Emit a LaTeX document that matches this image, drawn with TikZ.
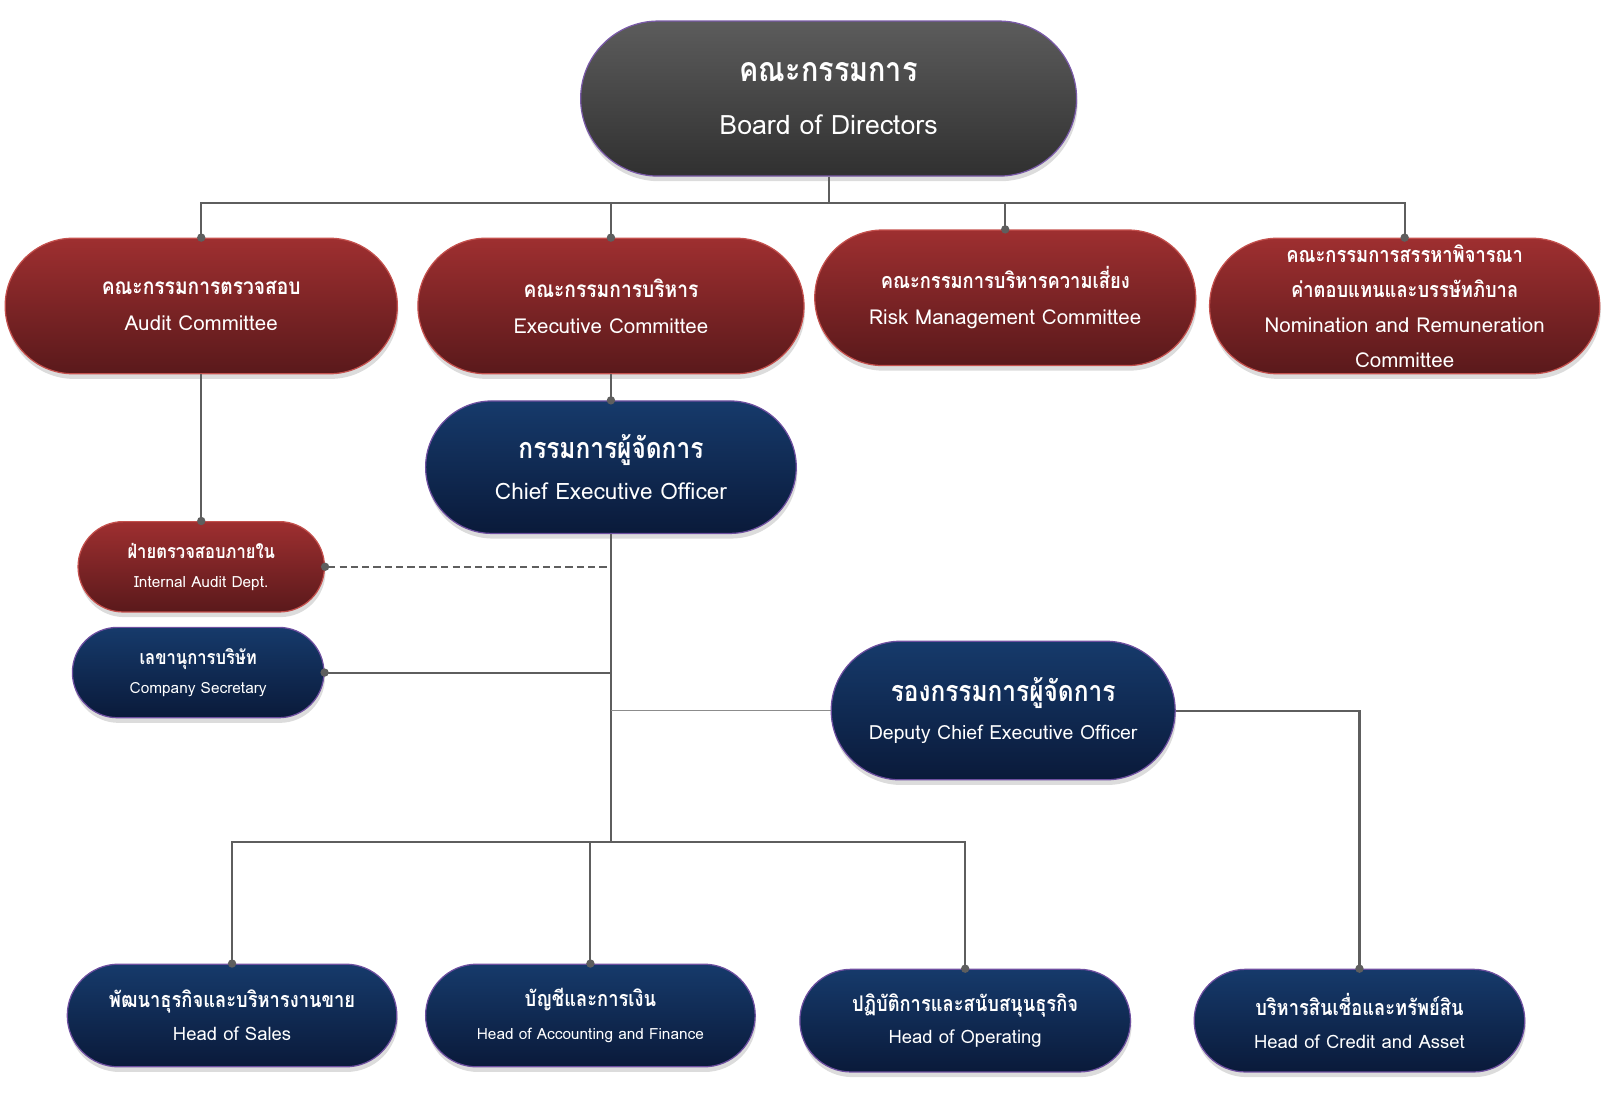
\documentclass[tikz,border=0pt]{standalone}
\usepackage{fontspec}
\usepackage{graphicx}
\setmainfont[Script=Thai]{Loma}
\usetikzlibrary{shapes.misc, shadows, arrows.meta, positioning}
\definecolor{LineGray}{HTML}{5E5E5E}
\definecolor{SoftGray}{HTML}{8C8C8C}
\definecolor{RedTop}{HTML}{9E2F30}
\definecolor{RedBot}{HTML}{5A191B}
\definecolor{RedEdge}{HTML}{C4504D}
\definecolor{BlueTop}{HTML}{163A6B}
\definecolor{BlueBot}{HTML}{0A1A3A}
\definecolor{BlueEdge}{HTML}{6E4FA0}
\definecolor{BoardTop}{HTML}{5C5C5C}
\definecolor{BoardBot}{HTML}{303030}
\definecolor{BoardEdge}{HTML}{7A5AA8}
\newcommand{\thailine}[2]{\scalebox{0.85}[1]{\fontsize{#1}{#1}\bfseries\selectfont #2}}

\begin{document}
\begin{tikzpicture}[x=1pt, y=-1pt,
                pill/.style 2 args={rounded rectangle, minimum width=#1, minimum height=#2, inner sep=0pt,
                    line width=1.2pt, drop shadow={shadow xshift=1pt, shadow yshift=-5pt, opacity=0.28}},
                redbox/.style={draw=RedEdge, top color=RedTop, bottom color=RedBot},
                bluebox/.style={draw=BlueEdge, top color=BlueTop, bottom color=BlueBot},
                boardbox/.style={draw=BoardEdge, top color=BoardTop, bottom color=BoardBot},
                captext/.style={text=white, align=center, inner sep=0pt},
                conn/.style={draw=LineGray, line width=2pt},
                dotend/.style={-{Circle[length=8pt]}, shorten >=-4pt},
                dotstart/.style={{Circle[length=8pt]}-, shorten <=-4pt}
            ]
            \useasboundingbox (0,0) rectangle (1568,1069);

            % board
            \node[pill={483}{151}, boardbox,
                label={[captext, font=\fontsize{26}{51}\selectfont]center:{\thailine{33}{คณะกรรมการ}\\Board of Directors}}] (board) at (807,96) {};

            % committees
            \node[pill={382}{132}, redbox,
                label={[captext, font=\fontsize{20}{35}\selectfont]center:{\thailine{22}{คณะกรรมการตรวจสอบ}\\Audit Committee}}] (audit) at (196,298) {};
            \node[pill={376}{132}, redbox,
                label={[captext, font=\fontsize{20}{35}\selectfont]center:{\thailine{22}{คณะกรรมการบริหาร}\\Executive Committee}}] (exec) at (595,298) {};
            \node[pill={371}{132}, redbox,
                label={[captext, font=\fontsize{20}{35}\selectfont]center:{\thailine{21}{คณะกรรมการบริหารความเสี่ยง}\\Risk Management Committee}}] (risk) at (979,290) {};
            \node[pill={380}{132}, redbox,
                label={[captext, font=\fontsize{20}{34}\selectfont]center:{\thailine{21}{คณะกรรมการสรรหาพิจารณา}\\\thailine{21}{ค่าตอบแทนและบรรษัทภิบาล}\\Nomination and Remuneration\\Committee}}] (nomrem) at (1368,298) {};

            % management
            \node[pill={361}{129}, bluebox,
                label={[captext, font=\fontsize{22}{40}\selectfont]center:{\thailine{28}{กรรมการผู้จัดการ}\\Chief Executive Officer}}] (ceo) at (595,455) {};
            \node[pill={240}{88}, redbox,
                label={[captext, font=\fontsize{15}{28}\selectfont]center:{\thailine{19}{ฝ่ายตรวจสอบภายใน}\\Internal Audit Dept.}}] (iad) at (196,552) {};
            \node[pill={245}{88}, bluebox,
                label={[captext, font=\fontsize{15}{28}\selectfont]center:{\thailine{19}{เลขานุการบริษัท}\\Company Secretary}}] (secretary) at (193,655) {};
            \node[pill={335}{135}, bluebox,
                label={[captext, font=\fontsize{19}{37}\selectfont]center:{\thailine{28}{รองกรรมการผู้จัดการ}\\Deputy Chief Executive Officer}}] (deputy) at (977,692) {};

            % heads
            \node[pill={321}{100}, bluebox,
                label={[captext, font=\fontsize{18}{32}\selectfont]center:{\thailine{21}{พัฒนาธุรกิจและบริหารงานขาย}\\Head of Sales}}] (sales) at (226,989) {};
            \node[pill={321}{100}, bluebox,
                label={[captext, font=\fontsize{15}{32}\selectfont]center:{\thailine{21}{บัญชีและการเงิน}\\Head of Accounting and Finance}}] (acct) at (575,989) {};
            \node[pill={322}{100}, bluebox,
                label={[captext, font=\fontsize{18}{32}\selectfont]center:{\thailine{21}{ปฏิบัติการและสนับสนุนธุรกิจ}\\Head of Operating}}] (oper) at (940,994) {};
            \node[pill={322}{100}, bluebox,
                label={[captext, font=\fontsize{18}{32}\selectfont]center:{\thailine{21}{บริหารสินเชื่อและทรัพย์สิน}\\Head of Credit and Asset}}] (credit) at (1324,994) {};

            \coordinate (bus) at (807,198);
            \coordinate (trunk) at (595,820);

            % board to committees
            \draw[conn] (board.south) -- (bus);
            \draw[conn, dotend] (bus) -| (audit.north);
            \draw[conn, dotend] (bus) -| (exec.north);
            \draw[conn, dotend] (bus) -| (risk.north);
            \draw[conn, dotend] (bus) -| (nomrem.north);

            \draw[conn, dotend] (audit.south) -- (iad.north);
            \draw[conn, dotend] (exec.south) -- (ceo.north);

            % ceo line
            \draw[conn] (ceo.south) -- (trunk);
            \draw[conn, dotstart, dash pattern=on 7pt off 4pt, line width=1.8pt] (iad.east) -- (iad.east -| ceo.south);
            \draw[conn, dotstart] (secretary.east) -- (secretary.east -| ceo.south);
            \draw[draw=SoftGray, line width=1.5pt] (deputy.west -| ceo.south) -- (deputy.west);
            \draw[conn, dotend] (deputy.east) -| (credit.north);

            \draw[conn, dotend] (trunk) -| (sales.north);
            \draw[conn, dotend] (trunk) -| (acct.north);
            \draw[conn, dotend] (trunk) -| (oper.north);

        \end{tikzpicture}
\end{document}
